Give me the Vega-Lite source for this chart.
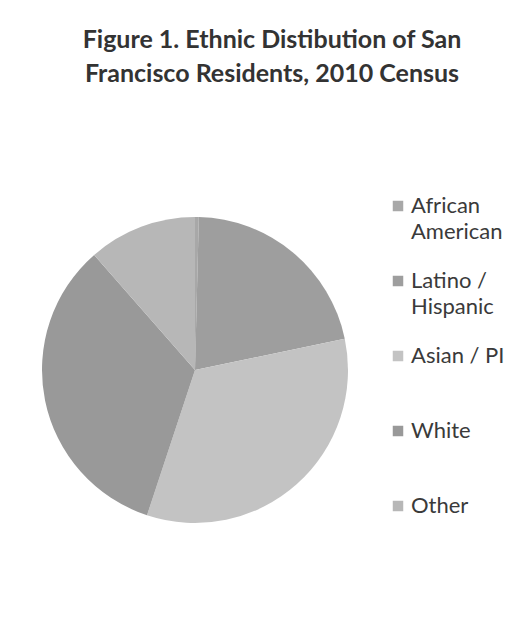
{
  "$schema": "https://vega.github.io/schema/vega-lite/v6.json",
  "width": 390,
  "height": 500,
  "autosize": "none",
  "padding": {"left": 0, "top": 120, "right": 138, "bottom": 19},
  "background": "white",
  "title": {
    "text": ["Figure 1. Ethnic Distibution of San", "Francisco Residents, 2010 Census"],
    "font": "Lato",
    "fontWeight": "bold",
    "fontSize": 25,
    "lineHeight": 34,
    "color": "#333333",
    "anchor": "middle",
    "frame": "group",
    "dx": 77,
    "offset": 33
  },
  "data": {
    "values": [
      {"group": "African American", "share": 0.4, "order": 1},
      {"group": "Latino / Hispanic", "share": 21.4, "order": 2},
      {"group": "Asian / PI", "share": 33.5, "order": 3},
      {"group": "White", "share": 33.6, "order": 4},
      {"group": "Other", "share": 11.5, "order": 5}
    ]
  },
  "mark": {"type": "arc", "radius": 153},
  "encoding": {
    "theta": {"field": "share", "type": "quantitative", "stack": true},
    "order": {"field": "order", "type": "quantitative"},
    "color": {
      "field": "group",
      "type": "nominal",
      "sort": ["African American", "Latino / Hispanic", "Asian / PI", "White", "Other"],
      "scale": {
        "domain": ["African American", "Latino / Hispanic", "Asian / PI", "White", "Other"],
        "range": ["#a8a8a8", "#9e9e9e", "#c3c3c3", "#999999", "#b7b7b7"]
      },
      "legend": {
        "title": null,
        "orient": "none",
        "legendX": 387,
        "legendY": 75,
        "symbolType": "square",
        "symbolSize": 110,
        "symbolStrokeWidth": 0,
        "labelFont": "Lato",
        "labelFontSize": 22,
        "labelColor": "#3a3a3a",
        "labelLimit": 200,
        "labelOffset": 2,
        "labelBaseline": "middle",
        "rowPadding": 27,
        "labelExpr": "datum.label == 'African American' ? ['African', 'American'] : datum.label == 'Latino / Hispanic' ? ['Latino /', 'Hispanic'] : [datum.label, ' ']"
      }
    }
  },
  "config": {
    "view": {"stroke": null},
    "style": {"guide-label": {"lineHeight": 26}}
  }
}
